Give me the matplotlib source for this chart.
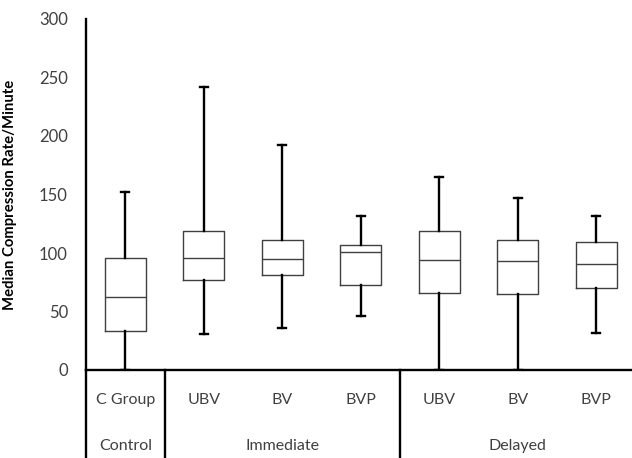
import matplotlib
matplotlib.use("Agg")
import matplotlib.pyplot as plt

plt.rcParams['font.family'] = ['Lato', 'DejaVu Sans']

# values
labels = ["C Group", "UBV", "BV", "BVP", "UBV", "BV", "BVP"]
groups = ["Control", "Immediate", "Delayed"]
group_sizes = [1, 3, 3]
whis_lo = [0, 30.5, 36, 46, 0, 0, 32]
q1 = [33, 77, 81, 73, 66, 65, 70]
median = [62, 95.5, 95, 100.5, 94, 93, 90.5]
q3 = [95.5, 118.5, 111, 107, 118.5, 111.5, 109]
whis_hi = [152, 242, 192, 132, 165, 147, 131.5]

stats = []
for i in range(len(labels)):
    stats.append(dict(whislo=whis_lo[i], q1=q1[i], med=median[i],
                      q3=q3[i], whishi=whis_hi[i], label=labels[i]))

fig = plt.figure(figsize=(6.32, 4.58), dpi=100)
ax = fig.add_axes([86/632, 88/458, 1 - 86/632, (370 - 19)/458])

pos = [i + 0.5 for i in range(len(labels))]
ax.bxp(stats, positions=pos, widths=0.52, showfliers=False, capwidths=0.1,
       boxprops=dict(color='#404040', linewidth=1.0),
       medianprops=dict(color='#404040', linewidth=1.0),
       whiskerprops=dict(color='black', linewidth=1.7),
       capprops=dict(color='black', linewidth=1.7))

ax.set_xlim(0, (632 - 86) / 78.5)
ax.set_ylim(0, 300)
ax.set_yticks([0, 50, 100, 150, 200, 250, 300])
ax.tick_params(axis='y', length=0, pad=13, labelsize=12, labelcolor='#404040')
ax.set_xticks([])
for s in ['top', 'right']:
    ax.spines[s].set_visible(False)
ax.spines['left'].set_linewidth(1.7)
ax.spines['bottom'].set_linewidth(1.7)
ax.set_ylabel("Median Compression Rate/Minute", fontsize=10.7, fontweight='bold', labelpad=8)
ax.yaxis.set_label_coords(-0.126, 0.5)

# category table under the axis
tr = ax.get_xaxis_transform()
bottom = -0.26
ax.plot([0, 0], [0, bottom], color='black', lw=1.7, transform=tr, clip_on=False)
start = 0
for g, n in zip(groups, group_sizes):
    if start > 0:
        ax.plot([start, start], [0, bottom], color='black', lw=1.7, transform=tr, clip_on=False)
    ax.text(start + n / 2, -0.217, g, transform=tr, ha='center', va='center',
            fontsize=11.5, color='#404040')
    start += n
for p, lab in zip(pos, labels):
    ax.text(p, -0.085, lab, transform=tr, ha='center', va='center',
            fontsize=11.5, color='#404040')

fig.savefig("out.png", dpi=100)
